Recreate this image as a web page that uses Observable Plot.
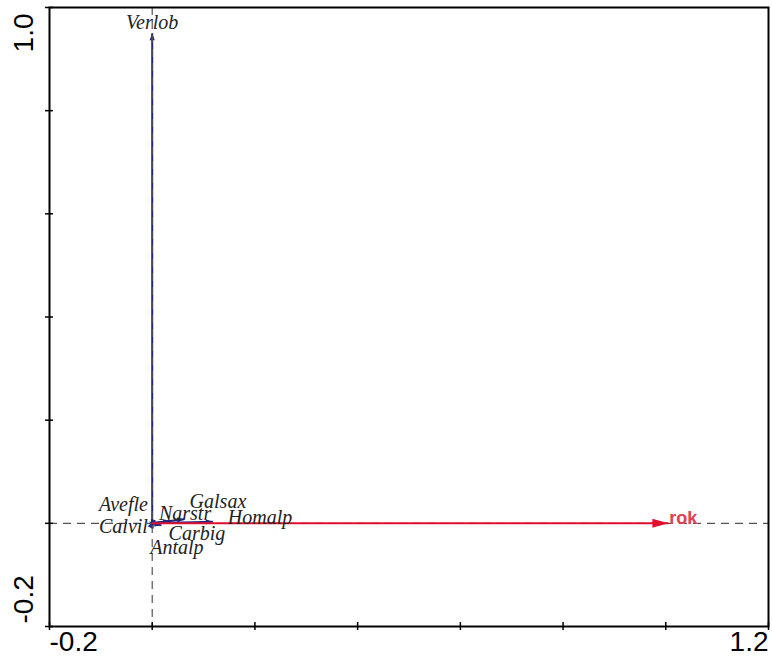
<!DOCTYPE html>
<html><head><meta charset="utf-8">
<script src="https://cdn.jsdelivr.net/npm/d3@7"></script>
<script src="https://cdn.jsdelivr.net/npm/@observablehq/plot@0.6"></script>
<style>body{margin:0;background:#fff}</style>
</head><body><div id="chart"></div>
<script>
// Species (response) arrows: tip coordinates and label coordinates (data units)
const species = ["Verlob", "Narstr", "Homalp", "Galsax", "Carbig", "Avefle", "Calvil", "Antalp"];
const spX = [0.000, 0.062, 0.118, 0.035, 0.018, 0.002, -0.002, 0.001];
const spY = [0.950, 0.008, 0.003, 0.005, -0.004, 0.004, -0.006, -0.010];
const spLabelX = [0.000, 0.064, 0.210, 0.128, 0.087, -0.056, -0.056, 0.048];
const spLabelY = [0.971, 0.018, 0.012, 0.043, -0.019, 0.037, -0.006, -0.048];

// Environmental variable arrow
const envNames = ["rok"];
const envX = [1.005];
const envY = [0.000];

// Axes
const xTicks = [-0.2, 0, 0.2, 0.4, 0.6, 0.8, 1.0, 1.2];
const yTicks = [-0.2, 0, 0.2, 0.4, 0.6, 0.8, 1.0];
const xMin = -0.2, xMax = 1.2;
const yMin = -0.2, yMax = 1.0;
const xMinLabel = "-0.2", xMaxLabel = "1.2";
const yMinLabel = "-0.2", yMaxLabel = "1.0";

const spData = species.map((s, i) => ({name: s, x: spX[i], y: spY[i], lx: spLabelX[i], ly: spLabelY[i],
  angle: Math.atan2(spX[i], spY[i]) * 180 / Math.PI}));
const envData = envNames.map((s, i) => ({name: s, x: envX[i], y: envY[i],
  angle: Math.atan2(envX[i], envY[i]) * 180 / Math.PI}));

const headShape = (w) => ({
  draw(context, l) {
    context.moveTo(0, -l);
    context.lineTo(-w, 0);
    context.lineTo(w, 0);
    context.closePath();
  }
});

const blue = "#25257f";
const red = "#e0102e";
const sans = "Liberation Sans, Arial, sans-serif";
const lab = {fontSize: 28, fontFamily: sans, fill: "#000"};

const chart = Plot.plot({
  width: 772,
  height: 666,
  marginLeft: 49,
  marginRight: 4,
  marginTop: 7,
  marginBottom: 40,
  x: {domain: [xMin, xMax], axis: null},
  y: {domain: [yMin, yMax], axis: null},
  style: {background: "#fff"},
  marks: [
    // species arrows
    Plot.link(spData, {x1: 0, y1: 0, x2: "x", y2: "y", stroke: blue, strokeWidth: 2}),
    Plot.vector(spData, {x: "x", y: "y", rotate: "angle", length: 7, anchor: "end",
      shape: headShape(2.6), fill: blue, stroke: "none"}),
    // dashed reference lines
    Plot.ruleY([0], {stroke: "#555", strokeWidth: 1.2, strokeDasharray: "8,6"}),
    Plot.ruleX([0], {stroke: "#555", strokeWidth: 1.2, strokeDasharray: "8,6"}),
    // environmental arrow
    Plot.link(envData, {x1: 0, y1: 0, x2: "x", y2: "y", stroke: red, strokeWidth: 2}),
    Plot.vector(envData, {x: "x", y: "y", rotate: "angle", length: 16, anchor: "end",
      shape: headShape(4.5), fill: red, stroke: "none"}),
    Plot.text(envData, {x: "x", y: "y", text: "name", textAnchor: "start", dx: 1, dy: -5,
      fill: "#e04050", fontWeight: "bold", fontSize: 18, fontFamily: sans}),
    // species labels
    Plot.text(spData, {x: "lx", y: "ly", text: "name", fill: "#222",
      fontFamily: "Liberation Serif, Times New Roman, serif", fontStyle: "italic", fontSize: 20}),
    // frame and ticks
    Plot.frame({stroke: "#000", strokeWidth: 2}),
    Plot.axisX({ticks: xTicks, tickSize: 8, dy: -4, tickFormat: () => "", strokeWidth: 1.5}),
    Plot.axisY({ticks: yTicks, tickSize: 8, dx: 4, tickFormat: () => "", strokeWidth: 1.5}),
    // axis end labels
    Plot.text([xMin], {x: d => d, text: [xMinLabel], frameAnchor: "bottom", textAnchor: "start", dy: 24, ...lab}),
    Plot.text([xMax], {x: d => d, text: [xMaxLabel], frameAnchor: "bottom", textAnchor: "end", dy: 24, ...lab}),
    Plot.text([yMin], {y: d => d, text: [yMinLabel], frameAnchor: "left", rotate: -90,
      textAnchor: "start", dx: -25, dy: -3, ...lab}),
    Plot.text([yMax], {y: d => d, text: [yMaxLabel], frameAnchor: "left", rotate: -90,
      textAnchor: "end", dx: -25, dy: 6, ...lab})
  ]
});
document.getElementById("chart").appendChild(chart);
</script>
</body></html>
